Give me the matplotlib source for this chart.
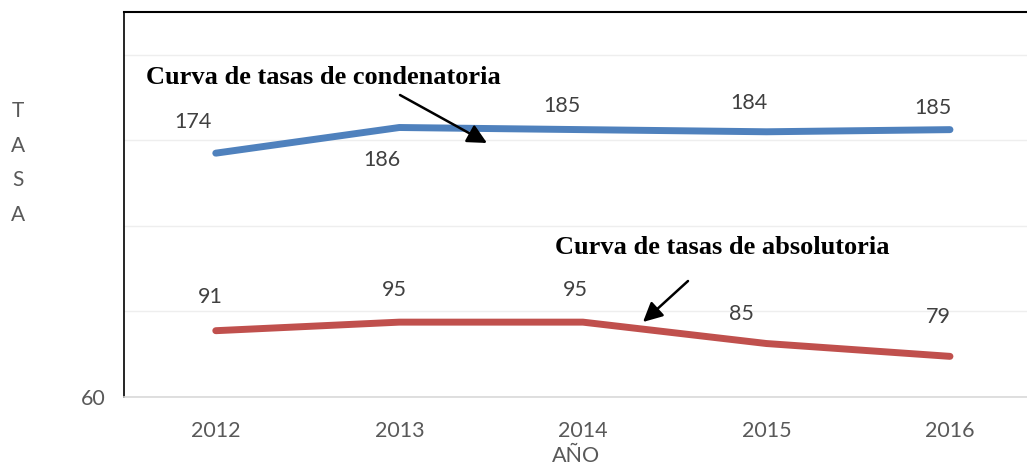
import matplotlib
matplotlib.use("Agg")
import matplotlib.pyplot as plt

years = ["2012", "2013", "2014", "2015", "2016"]
condenatoria = [174, 186, 185, 184, 185]
absolutoria = [91, 95, 95, 85, 79]
cond_labels = ["174", "186", "185", "184", "185"]
abs_labels = ["91", "95", "95", "85", "79"]

# label offsets in pixels (styling)
cond_off = [(-23, 31), (-17, -32), (-21, 24), (-18, 29), (-17, 22)]
abs_off = [(-5, 34), (-5, 32), (-8, 32), (-25, 30), (-12, 39)]

W, H = 1027, 465
fig = plt.figure(figsize=(W / 100, H / 100), dpi=100)
ax = fig.add_axes([124 / W, 1 - 397 / H, 1 - 124 / W, (397 - 12) / H])

def px(x, y):
    return (x / W, 1 - y / H)

x = list(range(len(years)))
ax.plot(x, condenatoria, color="#4F81BD", lw=5, solid_capstyle="round", solid_joinstyle="round", zorder=3)
ax.plot(x, absolutoria, color="#C0504D", lw=5, solid_capstyle="round", solid_joinstyle="round", zorder=3)

ax.set_xlim(-0.5, 4 + (W - 950) / 183.5)
ax.set_ylim(60, 240)
ax.set_yticks([60, 100, 140, 180, 220])
ax.set_yticklabels(["60", "", "", "", ""])
ax.set_xticks(x)
ax.set_xticklabels(years)
ax.tick_params(axis="both", length=0, labelsize=15.5, labelcolor="#595959")
ax.tick_params(axis="x", pad=17)
ax.tick_params(axis="y", pad=13)
for lab in ax.get_xticklabels() + ax.get_yticklabels():
    lab.set_family("Lato")
ax.grid(axis="y", color="#EEEEEE", lw=1)
ax.set_axisbelow(True)
ax.spines["right"].set_visible(False)
ax.spines["left"].set_color("black")
ax.spines["left"].set_linewidth(1.2)
ax.spines["top"].set_color("black")
ax.spines["top"].set_linewidth(1.5)
ax.spines["bottom"].set_color("#D9D9D9")
ax.spines["bottom"].set_linewidth(1.2)

for xi, v, lab, off in zip(x, condenatoria, cond_labels, cond_off):
    ax.annotate(lab, (xi, v), xytext=off, textcoords="offset pixels", ha="center", va="center",
                fontsize=15.5, color="#404040", family="Lato")
for xi, v, lab, off in zip(x, absolutoria, abs_labels, abs_off):
    ax.annotate(lab, (xi, v), xytext=off, textcoords="offset pixels", ha="center", va="center",
                fontsize=15.5, color="#404040", family="Lato")

fig.text(*px(576, 456), "AÑO", ha="center", va="center", fontsize=15.5, color="#595959", family="Lato")
fig.text(*px(18, 163), "T\nA\nS\nA", ha="center", va="center", fontsize=15, color="#595959",
         family="Lato", linespacing=1.9)

fig.text(*px(146, 77), "Curva de tasas de condenatoria", ha="left", va="center", fontsize=19,
         fontweight="bold", family="Liberation Serif", color="black")
fig.text(*px(555, 247), "Curva de tasas de absolutoria", ha="left", va="center", fontsize=19,
         fontweight="bold", family="Liberation Serif", color="black")

for start, end in [((400, 95), (487, 143)), ((688, 281), (643, 322))]:
    fig.add_artist(matplotlib.patches.FancyArrowPatch(px(*start), px(*end), transform=fig.transFigure,
                   arrowstyle="-|>,head_length=9,head_width=4.5", color="black", lw=1.8,
                   shrinkA=0, shrinkB=0, mutation_scale=1.3))

fig.savefig("out.png", dpi=100)
